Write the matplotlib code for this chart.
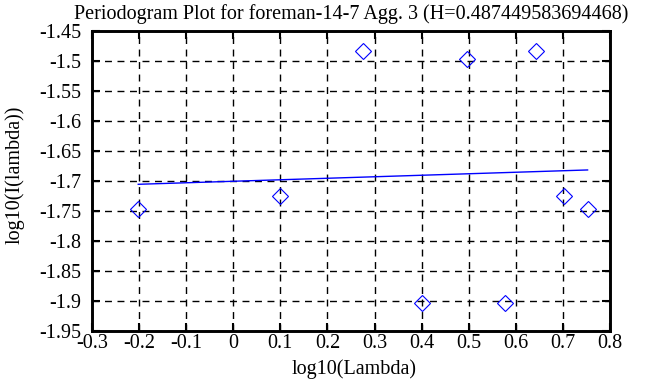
import matplotlib
matplotlib.use("Agg")
import matplotlib.pyplot as plt

# periodogram points
log_lambda = [-0.2018, 0.0993, 0.2754, 0.4002, 0.4971, 0.5763, 0.6433, 0.7013, 0.7524]
log_I = [-1.7467, -1.7245, -1.4833, -1.9039, -1.4967, -1.9039, -1.4833, -1.7245, -1.7467]

# fitted line endpoints
fit_x = [-0.2018, 0.7524]
fit_y = [-1.7055, -1.6816]

xticks = [-0.3, -0.2, -0.1, 0, 0.1, 0.2, 0.3, 0.4, 0.5, 0.6, 0.7, 0.8]
yticks = [-1.95, -1.9, -1.85, -1.8, -1.75, -1.7, -1.65, -1.6, -1.55, -1.5, -1.45]

plt.rcParams['font.family'] = ['Liberation Serif', 'DejaVu Serif']

fig = plt.figure(figsize=(6.68, 3.87), dpi=100)
ax = fig.add_axes([92/668, 1 - 331/387, (610-92)/668, (331-31)/387])

ax.plot(log_lambda, log_I, linestyle='none', marker='D', markersize=8,
        markerfacecolor='none', markeredgecolor='blue', markeredgewidth=0.8)
ax.plot(fit_x, fit_y, color='blue', linewidth=1)

ax.set_xlim(-0.3, 0.8)
ax.set_ylim(-1.95, -1.45)
ax.set_xticks(xticks)
ax.set_yticks(yticks)
ax.set_xticklabels([f"{t:g}" for t in xticks])
ax.set_yticklabels([f"{t:g}" for t in yticks])
ax.tick_params(direction='in', length=6, width=1.5, labelsize=14.5,
               top=True, right=True)
ax.tick_params(axis='x', pad=2)
ax.tick_params(axis='y', pad=8)
ax.grid(True, color='black', linestyle=(0, (5, 4)), linewidth=1)
for s in ax.spines.values():
    s.set_linewidth(2.1)

ax.set_title("Periodogram Plot for foreman-14-7 Agg. 3 (H=0.487449583694468)",
             fontsize=14.5, pad=9)
ax.set_xlabel("log10(Lambda)", fontsize=14.5)
ax.set_ylabel("log10(I(lambda))", fontsize=14.5)
ax.xaxis.set_label_coords(0.506, -0.095)
ax.yaxis.set_label_coords(-0.13, 0.52)

fig.savefig("out.png", dpi=100)
